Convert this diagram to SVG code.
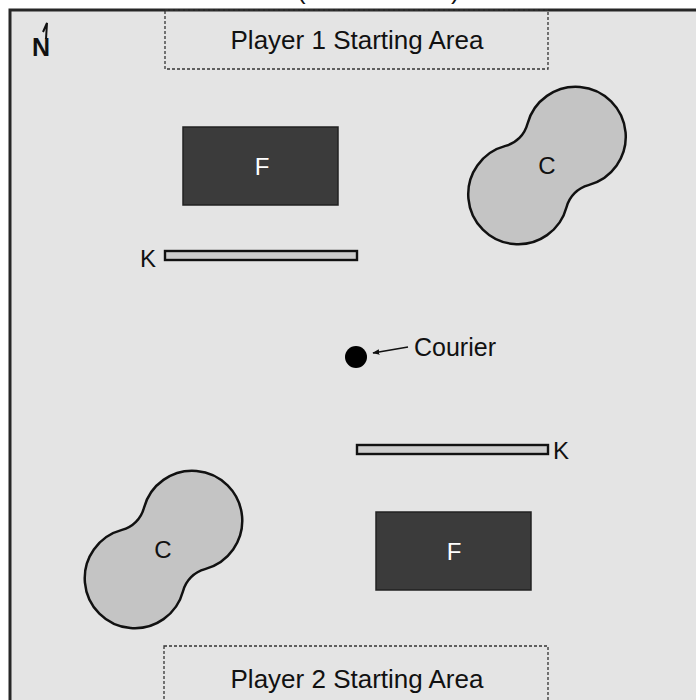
<svg xmlns="http://www.w3.org/2000/svg" width="696" height="700" viewBox="0 0 696 700">
  <style>
    .lbl { font-family: "Liberation Sans", Arial, sans-serif; fill: #111; }
    .area { fill: none; stroke: #333; stroke-width: 1.3; stroke-dasharray: 3 2; }
    .fort { fill: #3b3b3b; stroke: #222; stroke-width: 1.5; }
    .wall { fill: #cdcdcd; stroke: #111; stroke-width: 2.4; }
    .castle { fill: #c4c4c4; stroke: #111; stroke-width: 2.5; }
  </style>
  <defs>
    <!-- peanut-shaped region: two round lobes joined by a concave waist, axis along local x -->
    <path id="lobes" d="M15.5,-43.2 A50,50 0 1 1 15.5,43.2 A30.8,30.8 0 0 0 -15.5,43.2 A50,50 0 1 1 -15.5,-43.2 A30.8,30.8 0 0 0 15.5,-43.2 Z"/>
    <marker id="arrow" viewBox="0 0 10 10" refX="9" refY="5" markerWidth="7" markerHeight="7" orient="auto" markerUnits="userSpaceOnUse">
      <path d="M0,1 L10,5 L0,9 Z" fill="#111"/>
    </marker>
  </defs>

  <!-- page background and field -->
  <rect x="0" y="0" width="696" height="700" fill="#ffffff"/>
  <rect x="10" y="10" width="700" height="700" fill="#e4e4e4" stroke="#262626" stroke-width="3"/>
  <text class="lbl" x="297" y="-1" font-size="26">(</text>
  <text class="lbl" x="451" y="-1" font-size="26">)</text>

  <!-- compass -->
  <g id="compass">
    <text class="lbl" x="32" y="56" font-size="25" font-weight="bold">N</text>
    <path d="M46,39 L47,23 L43,32" fill="none" stroke="#111" stroke-width="2"/>
  </g>

  <!-- starting areas -->
  <g id="start1">
    <rect class="area" x="165" y="10" width="383" height="59"/>
    <text class="lbl" x="357" y="49" font-size="26" text-anchor="middle">Player 1 Starting Area</text>
  </g>
  <g id="start2">
    <rect class="area" x="164" y="646" width="384" height="70"/>
    <text class="lbl" x="357" y="688" font-size="26" text-anchor="middle">Player 2 Starting Area</text>
  </g>

  <!-- forts -->
  <g id="fort1">
    <rect class="fort" x="183" y="127" width="155" height="78"/>
    <text x="262" y="175" font-size="24" text-anchor="middle" font-family="Liberation Sans, Arial, sans-serif" fill="#ffffff">F</text>
  </g>
  <g id="fort2">
    <rect class="fort" x="376" y="512" width="155" height="78"/>
    <text x="454" y="560" font-size="24" text-anchor="middle" font-family="Liberation Sans, Arial, sans-serif" fill="#ffffff">F</text>
  </g>

  <!-- walls -->
  <g id="wall1">
    <rect class="wall" x="165" y="251" width="192" height="9"/>
    <text class="lbl" x="140" y="267" font-size="24">K</text>
  </g>
  <g id="wall2">
    <rect class="wall" x="357" y="445" width="191" height="9"/>
    <text class="lbl" x="553" y="459" font-size="24">K</text>
  </g>

  <!-- castles -->
  <g id="castle1">
    <use href="#lobes" class="castle" transform="translate(547,165.5) rotate(-45)"/>
    <text class="lbl" x="547" y="174" font-size="24" text-anchor="middle">C</text>
  </g>
  <g id="castle2">
    <use href="#lobes" class="castle" transform="translate(163.5,549.5) rotate(-45)"/>
    <text class="lbl" x="163" y="558" font-size="24" text-anchor="middle">C</text>
  </g>

  <!-- courier -->
  <g id="courier">
    <circle cx="356" cy="357" r="11" fill="#000"/>
    <text class="lbl" x="414" y="356" font-size="25">Courier</text>
  </g>

  <g id="connectors">
    <line x1="408" y1="347" x2="373" y2="353" stroke="#111" stroke-width="1.6" marker-end="url(#arrow)"/>
  </g>
</svg>
